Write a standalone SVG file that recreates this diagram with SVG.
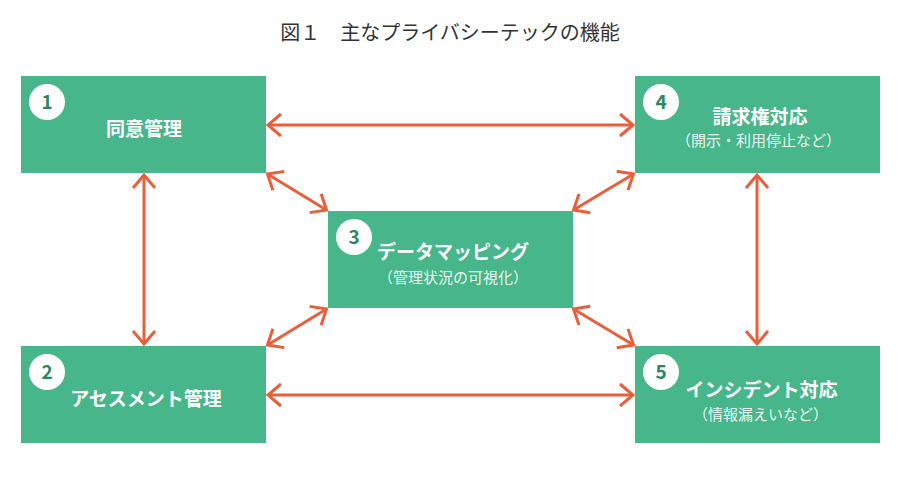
<svg xmlns="http://www.w3.org/2000/svg" width="900" height="484" viewBox="0 0 900 484">
<style>
.box{fill:#47B68A;}
.num-c{fill:#ffffff;}
.num{font-family:"Noto Sans CJK JP","Noto Sans",sans-serif;font-size:19px;font-weight:700;fill:#2E8660;text-anchor:middle;}
.t{font-family:"Noto Sans CJK JP",sans-serif;font-size:19px;font-weight:700;fill:#ffffff;text-anchor:middle;}
.s{font-family:"Noto Sans CJK JP",sans-serif;font-size:15px;font-weight:400;fill:#ffffff;fill-opacity:0.9;text-anchor:middle;}
.title{font-family:"Noto Sans CJK JP",sans-serif;font-size:20px;font-weight:400;fill:#333333;text-anchor:middle;}
.arr{stroke:#E95F3B;stroke-width:3;fill:none;marker-start:url(#ah);marker-end:url(#ah);}
</style>
<defs>
<marker id="ah" markerUnits="userSpaceOnUse" viewBox="-16 -14 19 28" refX="0" refY="0" markerWidth="19" markerHeight="28" orient="auto-start-reverse" overflow="visible">
<path d="M-13,-11 L0,0 L-13,11" fill="none" stroke="#E95F3B" stroke-width="3" stroke-linejoin="miter" stroke-linecap="butt"/>
</marker>
</defs>
<rect width="900" height="484" fill="#ffffff"/>
<text class="title" x="450" y="39.5">図１　主なプライバシーテックの機能</text>
<g id="connectors">
<line class="arr" x1="268" y1="125" x2="633" y2="125"/>
<line class="arr" x1="268" y1="395" x2="633" y2="395"/>
<line class="arr" x1="144" y1="175" x2="144" y2="344"/>
<line class="arr" x1="757" y1="175" x2="757" y2="344"/>
<line class="arr" x1="267.5" y1="174" x2="326.5" y2="210"/>
<line class="arr" x1="573.5" y1="210" x2="633.5" y2="174"/>
<line class="arr" x1="267.5" y1="345" x2="326.5" y2="309"/>
<line class="arr" x1="573.5" y1="309" x2="633.5" y2="345"/>
</g>
<g id="node1">
<rect class="box" x="21" y="76" width="245" height="97"/>
<circle class="num-c" cx="47" cy="102" r="18"/>
<text class="num" x="47" y="109">1</text>
<text class="t" x="144" y="136">同意管理</text>
</g>
<g id="node2">
<rect class="box" x="21" y="346" width="245" height="97"/>
<circle class="num-c" cx="47" cy="372" r="18"/>
<text class="num" x="47" y="379">2</text>
<text class="t" x="146" y="406">アセスメント管理</text>
</g>
<g id="node3">
<rect class="box" x="328" y="211" width="245" height="97"/>
<circle class="num-c" cx="354" cy="237" r="18"/>
<text class="num" x="354" y="244">3</text>
<text class="t" x="453" y="259">データマッピング</text>
<text class="s" x="453" y="283">（管理状況の可視化）</text>
</g>
<g id="node4">
<rect class="box" x="635" y="76" width="245" height="97"/>
<circle class="num-c" cx="661" cy="102" r="18"/>
<text class="num" x="661" y="109">4</text>
<text class="t" x="760" y="123.5">請求権対応</text>
<text class="s" x="758.5" y="146">（開示・利用停止など）</text>
</g>
<g id="node5">
<rect class="box" x="635" y="346" width="245" height="97"/>
<circle class="num-c" cx="661" cy="372" r="18"/>
<text class="num" x="661" y="379">5</text>
<text class="t" x="761.5" y="397">インシデント対応</text>
<text class="s" x="760.5" y="420">（情報漏えいなど）</text>
</g>
</svg>
